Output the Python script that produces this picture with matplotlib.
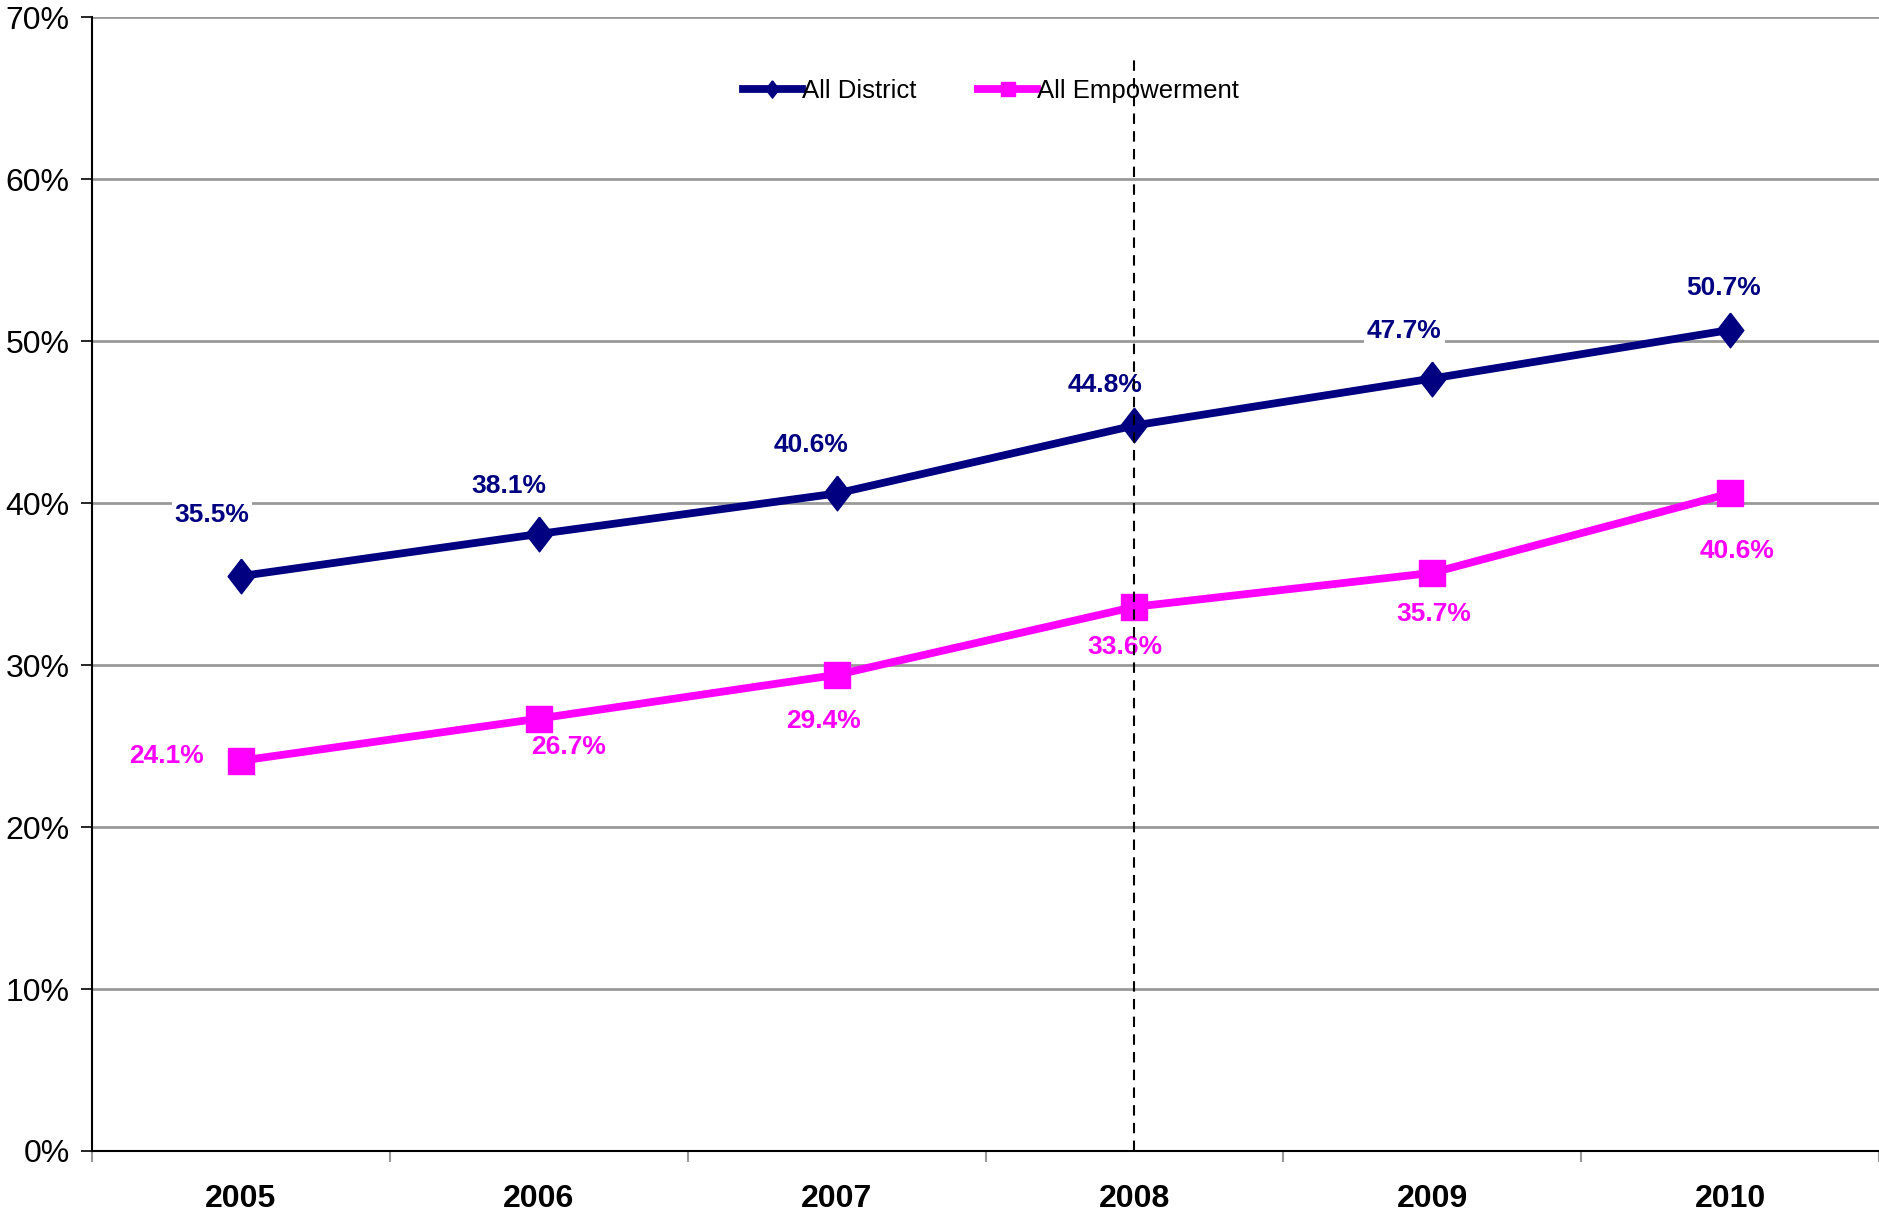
import matplotlib.pyplot as plt

years = ['2005', '2006', '2007', '2008', '2009', '2010']
all_district = [35.5, 38.1, 40.6, 44.8, 47.7, 50.7]
all_empowerment = [24.1, 26.7, 29.4, 33.6, 35.7, 40.6]

# label offsets in pixels (dx, dy)
district_offsets = [(-29, 61), (-30, 48), (-26, 48), (-29, 40), (-28, 48), (-6, 42)]
empower_offsets = [(-74, 5), (30, -28), (-13, -46), (-10, -40), (2, -41), (7, -58)]

navy = '#000080'
magenta = '#FF00FF'

# slightly tall diamond like the excel marker
tall_diamond = [(0, 1), (0.77, 0), (0, -1), (-0.77, 0), (0, 1)]

plt.rcParams['font.family'] = ['Liberation Sans', 'DejaVu Sans']

fig = plt.figure(figsize=(18.79, 12.15), dpi=100)
ax = fig.add_axes([0.049, 0.0527, 0.951, 0.933])

x = [i + 0.5 for i in range(len(years))]

ax.plot(x, all_district, color=navy, lw=5.6, marker=tall_diamond, markersize=25,
        label='All District', zorder=4)
ax.plot(x, all_empowerment, color=magenta, lw=5.6, marker='s', markersize=19,
        label='All Empowerment', zorder=4)

# vertical dashed marker at 2008
ax.plot([3.5, 3.5], [0, 67.6], color='black', lw=1.5, ls=(0, (5, 3.5)), zorder=6)

for xi, v, off in zip(x, all_district, district_offsets):
    ax.annotate(f'{v:.1f}%', (xi, v), xytext=off, textcoords='offset pixels',
                ha='center', va='center', fontsize=19, fontweight='bold', color=navy,
                bbox=dict(facecolor='white', edgecolor='none', pad=2), zorder=5)
for xi, v, off in zip(x, all_empowerment, empower_offsets):
    ax.annotate(f'{v:.1f}%', (xi, v), xytext=off, textcoords='offset pixels',
                ha='center', va='center', fontsize=19, fontweight='bold', color=magenta,
                zorder=5)

ax.set_xlim(0, 6)
ax.set_ylim(0, 70)
ax.set_yticks(range(0, 71, 10))
ax.set_yticklabels([f'{t}%' for t in range(0, 71, 10)], fontsize=23)
ax.set_xticks(range(0, 7))
ax.set_xticklabels([])
ax.set_xticks(x, minor=True)
ax.set_xticklabels(years, minor=True, fontsize=23, fontweight='bold')
ax.tick_params(axis='x', which='minor', length=0, pad=24)
ax.tick_params(axis='x', which='major', length=8, color='#999999', width=1.5)
ax.tick_params(axis='y', length=8, width=1.2, pad=8)

ax.grid(axis='y', color='#999999', lw=2, zorder=0)
ax.set_axisbelow(True)
for s in ['top', 'right']:
    ax.spines[s].set_visible(False)
ax.spines['left'].set_linewidth(1.5)
ax.spines['bottom'].set_linewidth(1.5)

leg = ax.legend(loc='center', bbox_to_anchor=(0.503, 0.935), ncol=2, frameon=False,
                fontsize=18.5, markerscale=0.5, handlelength=2.3, handletextpad=0.0,
                columnspacing=2.4)

fig.savefig('out.png', dpi=100)
